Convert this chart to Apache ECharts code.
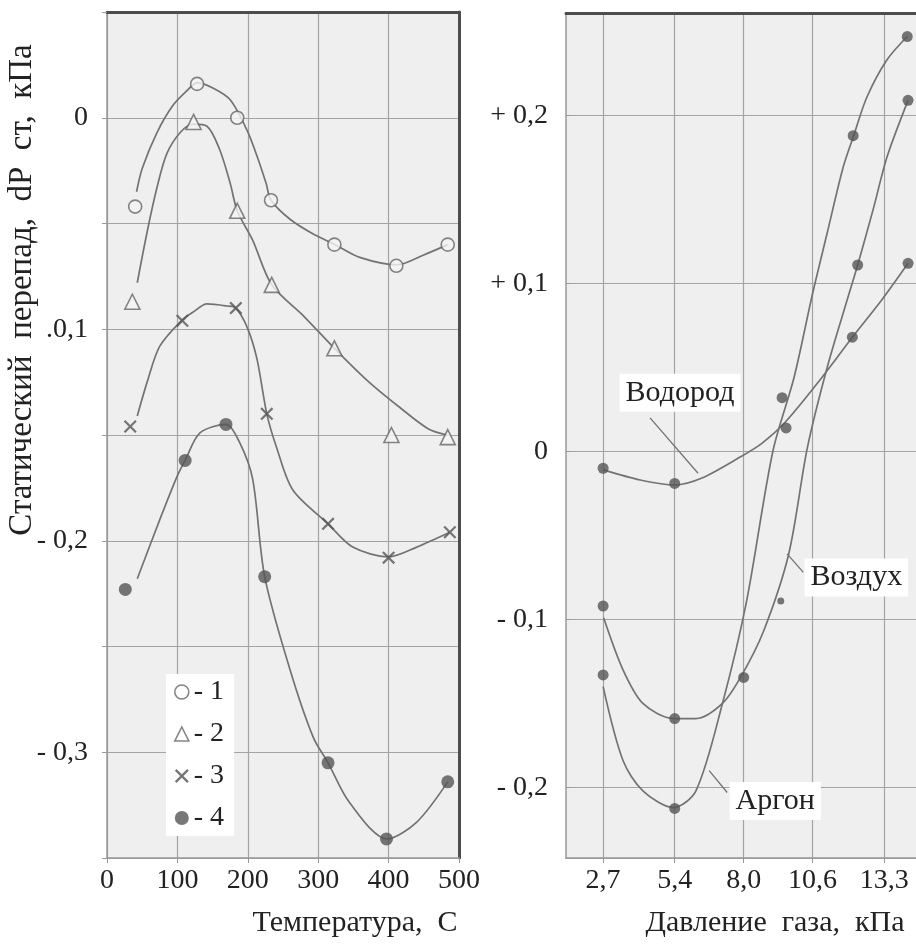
<!DOCTYPE html>
<html>
<head>
<meta charset="utf-8">
<script src="https://cdn.jsdelivr.net/npm/echarts@6/dist/echarts.min.js"></script>
<style>
html,body{margin:0;padding:0;background:#fff}
#main{width:916px;height:952px}
</style>
</head>
<body>
<div id="main"></div>
<script>
// левый график: dP ст от температуры (точки замеров)
var temp1=[[40,-0.042],[128,0.016],[185,0.0],[233,-0.039],[323,-0.060],[411,-0.070],[484,-0.060]];
var temp2=[[36,-0.087],[123,-0.002],[185,-0.044],[234,-0.079],[323,-0.109],[404,-0.150],[484,-0.151]];
var temp3=[[33,-0.146],[107,-0.096],[183,-0.090],[227,-0.140],[314,-0.192],[400,-0.208],[487,-0.196]];
var temp4=[[26,-0.223],[111,-0.162],[169,-0.145],[224,-0.217],[314,-0.305],[397,-0.341],[484,-0.314]];
var tempNames=['- 1','- 2','- 3','- 4'];
// сглаживающие кривые
var tempCurve1=[[42,-0.035],[50,-0.024],[71,-0.007],[94,0.006],[114,0.013],[128,0.0165],[151,0.014],[175,0.0085],[199,-0.006],[214,-0.019],[226,-0.031],[233,-0.039],[260,-0.048],[293,-0.055],[324,-0.060],[359,-0.066],[412,-0.0695],[449,-0.065],[484,-0.060]];
var tempCurve2=[[43,-0.078],[57,-0.054],[71,-0.033],[85,-0.017],[104,-0.007],[122,-0.003],[142,-0.004],[160,-0.015],[175,-0.031],[185,-0.044],[207,-0.058],[234,-0.079],[280,-0.094],[323,-0.109],[369,-0.124],[416,-0.137],[456,-0.147],[483,-0.150]];
var tempCurve3=[[43,-0.141],[57,-0.125],[75,-0.108],[107,-0.0955],[122,-0.092],[142,-0.088],[170,-0.089],[183,-0.090],[199,-0.099],[213,-0.114],[227,-0.140],[241,-0.156],[264,-0.176],[314,-0.192],[349,-0.203],[400,-0.2076],[440,-0.203],[487,-0.196]];
var tempCurve4=[[43,-0.218],[75,-0.190],[99,-0.170],[111,-0.162],[132,-0.149],[169,-0.145],[189,-0.154],[207,-0.171],[224,-0.217],[260,-0.261],[293,-0.293],[314,-0.305],[345,-0.324],[398,-0.341],[440,-0.333],[484,-0.314]];

// правый график: dP ст от давления газа
var pressureTicks=[2.7,5.4,8.0,10.6,13.3];
var hydrogenPts=[[2.7,-0.010],[5.4,-0.019],[9.6,0.014],[12.1,0.068],[14.2,0.112]];
var hydrogenCurve=[[2.7,-0.011],[4.1,-0.017],[5.4,-0.020],[6.4,-0.016],[7.9,-0.003],[8.7,0.005],[9.6,0.018],[10.9,0.043],[12.1,0.068],[13.2,0.090],[14.2,0.112]];
var airPts=[[2.7,-0.092],[5.4,-0.159],[8.0,-0.1345],[12.3,0.111],[14.2,0.209]];
var airStray=[[9.4,-0.089]];
var airCurve=[[2.72,-0.099],[3.45,-0.130],[4.2,-0.150],[5.35,-0.159],[6.2,-0.159],[7.2,-0.150],[7.9,-0.134],[8.75,-0.107],[9.7,-0.061],[10.4,0.002],[11.15,0.050],[11.9,0.090],[12.3,0.111],[12.9,0.145],[13.4,0.175],[14.2,0.209]];
var argonPts=[[2.7,-0.133],[5.4,-0.2125],[9.45,0.032],[12.13,0.188],[14.17,0.247]];
var argonCurve=[[2.7,-0.140],[3.45,-0.184],[4.2,-0.202],[5.35,-0.212],[6.2,-0.202],[7.2,-0.150],[8.1,-0.090],[9.1,0.000],[9.9,0.044],[10.6,0.094],[11.15,0.130],[11.75,0.169],[12.15,0.188],[12.65,0.211],[13.4,0.233],[14.17,0.247]];

// подписи кривых (в координатах данных)
var notes=[
	{text:'Водород',at:[5.6,0.035],from:[4.47,0.020],to:[6.28,-0.013]},
	{text:'Воздух',at:[12.25,-0.075],from:[9.64,-0.061],to:[10.25,-0.072]},
	{text:'Аргон',at:[9.19,-0.208],from:[6.7,-0.19],to:[7.38,-0.203]}
];

var FONT='"Liberation Serif","DejaVu Serif",serif';
var TXT='#222';
var LINE='#737373';
var MARK='#555';
var GRID='#a3a3a3';
var xMark='path://M0,1.2 L1.2,0 L5,3.8 L8.8,0 L10,1.2 L6.2,5 L10,8.8 L8.8,10 L5,6.2 L1.2,10 L0,8.8 L3.8,5 Z';

var chart=echarts.init(document.getElementById('main'));

function thickAxis(grid,pos,min,max){
	return {gridIndex:grid,type:'value',position:pos,min:min,max:max,
		axisLine:{show:true,onZero:false,lineStyle:{color:'#4d4d4d',width:3}},
		axisTick:{show:false},axisLabel:{show:false},splitLine:{show:false}};
}

function curve(data,axis){
	return {type:'line',xAxisIndex:axis,yAxisIndex:axis,data:data,smooth:0.3,showSymbol:false,
		lineStyle:{color:LINE,width:1.7},silent:true,z:2};
}
function marks(name,data,symbol,size,empty){
	return {name:name,type:'scatter',xAxisIndex:0,yAxisIndex:0,data:data,
		symbol:symbol,symbolSize:size,
		itemStyle:empty?{color:'#f4f4f4',borderColor:'#666',borderWidth:1.6}:{color:MARK},
		z:3};
}
function dots(data,size){
	return {type:'scatter',xAxisIndex:2,yAxisIndex:2,data:data,symbolSize:size,
		itemStyle:{color:MARK},z:3};
}

var option={
	backgroundColor:'#fff',
	animation:false,
	grid:[
		{left:107,top:12,width:352,height:846,show:true,backgroundColor:'#efefef',borderWidth:0},
		{left:566,top:13,width:350,height:845,show:true,backgroundColor:'#efefef',borderWidth:0}
	],
	legend:{
		data:[
			{name:tempNames[0],icon:'circle',itemStyle:{color:'#fff',borderColor:'#666',borderWidth:1.6}},
			{name:tempNames[1],icon:'triangle',itemStyle:{color:'#fff',borderColor:'#666',borderWidth:1.6}},
			{name:tempNames[2],icon:xMark},
			{name:tempNames[3],icon:'circle'}
		],
		orient:'vertical',left:166,top:674,itemWidth:14,itemHeight:14,itemGap:14,
		backgroundColor:'#fff',padding:[4,10,4,8],
		textStyle:{fontFamily:FONT,fontSize:28,color:TXT}
	},
	xAxis:[
		{gridIndex:0,type:'value',min:0,max:500,interval:100,
			name:'Температура,  С',nameLocation:'middle',nameGap:50,
			nameTextStyle:{fontFamily:FONT,fontSize:30,color:TXT,padding:[0,0,0,144]},
			axisLine:{onZero:false,lineStyle:{color:'#999',width:1.5}},
			axisTick:{show:true,length:5,lineStyle:{color:'#999'}},
			axisLabel:{fontFamily:FONT,fontSize:28,color:TXT,margin:9},
			splitLine:{show:true,lineStyle:{color:GRID,width:1.2}}},
		thickAxis(0,'top',0,500),
		{gridIndex:1,type:'value',min:1.3,max:14.5,
			name:'Давление  газа,  кПа',nameLocation:'middle',nameGap:50,
			nameTextStyle:{fontFamily:FONT,fontSize:30,color:TXT,padding:[0,0,0,68]},
			axisLine:{onZero:false,lineStyle:{color:'#999',width:1.5}},
			axisTick:{show:true,length:5,customValues:pressureTicks,lineStyle:{color:'#999'}},
			axisLabel:{fontFamily:FONT,fontSize:28,color:TXT,margin:9,customValues:pressureTicks,
				formatter:function(v){return v.toFixed(1).replace('.',',');}},
			splitLine:{show:true,lineStyle:{color:GRID,width:1.2}}},
		thickAxis(1,'top',1.3,14.5)
	],
	yAxis:[
		{gridIndex:0,type:'value',min:-0.35,max:0.05,interval:0.05,
			axisLine:{show:true,onZero:false,lineStyle:{color:'#999',width:1.5}},
			axisTick:{show:true,length:5,lineStyle:{color:'#999'}},
			axisLabel:{fontFamily:FONT,fontSize:28,color:TXT,margin:19,
				formatter:function(v){
					var r=Math.round(v*100);
					if(r===0) return '0';
					if(r===-10) return '.0,1';
					if(r===-20) return '- 0,2';
					if(r===-30) return '- 0,3';
					return '';
				}},
			splitLine:{show:true,lineStyle:{color:GRID,width:1.2}}},
		thickAxis(0,'right',-0.35,0.05),
		{gridIndex:1,type:'value',min:-0.242,max:0.261,splitNumber:5,
			axisLine:{show:true,onZero:false,lineStyle:{color:'#999',width:1.5}},
			axisTick:{show:true,inside:true,length:5,lineStyle:{color:'#999'}},
			axisLabel:{fontFamily:FONT,fontSize:28,color:TXT,margin:18,showMinLabel:false,showMaxLabel:false,
				formatter:function(v){
					var r=Math.round(v*10);
					if(Math.abs(v*10-r)>0.01) return '';
					if(r===0) return '0';
					return (r>0?'+ ':'- ')+'0,'+Math.abs(r);
				}},
			splitLine:{show:true,lineStyle:{color:GRID,width:1.2}}}
	],
	series:[
		curve(tempCurve1,0),curve(tempCurve2,0),curve(tempCurve3,0),curve(tempCurve4,0),
		marks(tempNames[0],temp1,'circle',13,true),
		marks(tempNames[1],temp2,'triangle',15,true),
		marks(tempNames[2],temp3,xMark,13,false),
		marks(tempNames[3],temp4,'circle',13,false),
		curve(hydrogenCurve,2),curve(airCurve,2),curve(argonCurve,2),
		dots(hydrogenPts,11),dots(airPts,11),dots(argonPts,11),dots(airStray,7)
	]
};
chart.setOption(option);

// подпись оси Y и подписи кривых правого графика
var graphics=[{
	type:'text',x:22,y:290,rotation:Math.PI/2,
	style:{text:'Статический  перепад,  dP  ст,  кПа',font:'33px '+FONT,fill:TXT,align:'center',verticalAlign:'middle'}
}];
for(var i=0;i<notes.length;i++){
	var n=notes[i];
	var a=chart.convertToPixel({xAxisIndex:2,yAxisIndex:2},n.from);
	var b=chart.convertToPixel({xAxisIndex:2,yAxisIndex:2},n.to);
	var c=chart.convertToPixel({xAxisIndex:2,yAxisIndex:2},n.at);
	graphics.push({type:'line',shape:{x1:a[0],y1:a[1],x2:b[0],y2:b[1]},style:{stroke:LINE,lineWidth:1.3},z:5});
	graphics.push({type:'text',x:c[0],y:c[1],z:6,
		style:{text:n.text,font:'30px '+FONT,fill:TXT,align:'center',verticalAlign:'middle',backgroundColor:'#fff',padding:[4,6]}});
}
chart.setOption({graphic:graphics});
</script>
</body>
</html>
